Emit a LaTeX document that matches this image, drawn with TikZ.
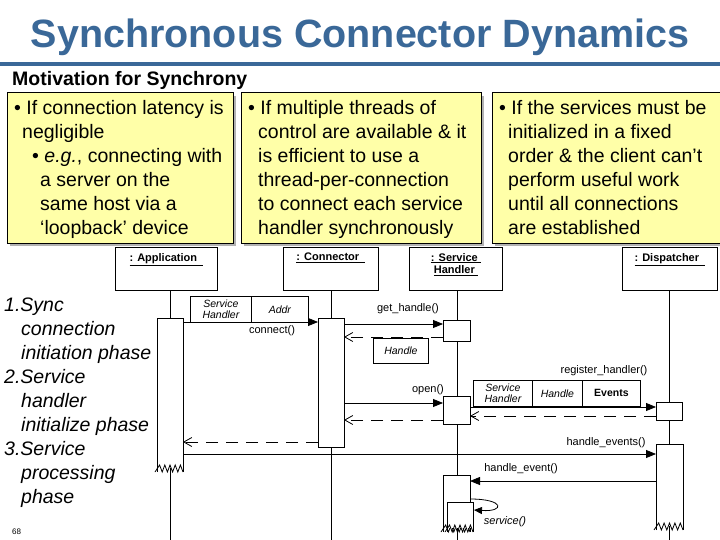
\documentclass[tikz,border=0pt]{standalone}
\usepackage{fontspec}
\setmainfont{Liberation Sans}
\usetikzlibrary{arrows.meta}
\definecolor{titleblue}{HTML}{3A6898}
\definecolor{pyellow}{HTML}{FFFFA8}
\newcommand\zzbox[4]{% x1 x2 ytop ybottom
  \fill[white] (#1,#3) rectangle (#2,#4-4);
  \draw[thick] (#1,#4) -- (#1,#3) -- (#2,#3) -- (#2,#4);
  \draw[thick] (#1-2,#4) \foreach \k in {0,...,4}{ -- ({#1+\k*(#2-#1)/5+((#2-#1)/10)},#4-7) -- ({#1+(\k+1)*(#2-#1)/5},#4)};}
\begin{document}
\begin{tikzpicture}[x=1pt,y=-1pt,
  panel/.style={draw,thick,fill=pyellow,anchor=north west,inner sep=0pt},
  obj/.style={draw,thick,fill=white,minimum height=43pt,anchor=north west},
  olab/.style={anchor=north,font=\fontsize{11}{12.5}\selectfont\bfseries,align=center,inner sep=0pt},
  act/.style={draw,thick,fill=white},
  msg/.style={thick,-{Triangle[length=10pt,width=8pt]}},
  ret/.style={thick,dash pattern=on 12pt off 8pt,-{Straight Barb[length=8pt,width=9pt]}},
  lbl/.style={font=\fontsize{11}{12}\selectfont},
  cell/.style={draw,thick,fill=white,minimum height=26pt,font=\fontsize{10.5}{10.5}\selectfont\itshape,align=center,inner sep=1pt,anchor=north west}]
\useasboundingbox (0,0) rectangle (720,540);
\fill[white] (0,0) rectangle (720,540);
% title
\node[font=\fontsize{39.5}{40}\selectfont\bfseries,text=titleblue,anchor=base] (title) at (360,48) {Synchronous Connector Dynamics};
\fill[titleblue] (0,62) rectangle (720,66);
\node[font=\fontsize{19.5}{20}\selectfont\bfseries,anchor=base west,inner sep=0pt] (mot) at (12,86) {Motivation for Synchrony};
% panels
\fill[gray!60] (10,96) rectangle (236,246);
\fill[gray!60] (244,96) rectangle (484,246);
\fill[gray!60] (495,96) rectangle (722,246);
\node[panel,minimum width=226pt,minimum height=151pt] (p1) at (7,92) {};
\node[panel,minimum width=240pt,minimum height=151pt] (p2) at (241,92) {};
\node[panel,minimum width=230pt,minimum height=151pt] (p3) at (492,92) {};
\begin{scope}[every node/.style={anchor=base west,inner sep=0pt,font=\fontsize{19.5}{20}\selectfont}]
\node at (14,115) {• If connection latency is};
\node at (22,139) {negligible};
\node at (32,163) {• \textit{e.g.}, connecting with};
\node at (40,187) {a server on the};
\node at (40,211) {same host via a};
\node at (40,235) {‘loopback’ device};
\node at (248,115) {• If multiple threads of};
\node at (258,139) {control are available \& it};
\node at (258,163) {is efficient to use a};
\node at (258,187) {thread-per-connection};
\node at (258,211) {to connect each service};
\node at (258,235) {handler synchronously};
\node at (499,115) {• If the services must be};
\node at (508,139) {initialized in a fixed};
\node at (508,163) {order \& the client can’t};
\node at (508,187) {perform useful work};
\node at (508,211) {until all connections};
\node at (508,235) {are established};
\end{scope}
\begin{scope}[every node/.style={anchor=base west,inner sep=0pt,font=\fontsize{19.5}{20}\selectfont\itshape}]
\node at (4,311) {1.Sync};
\node at (21,335) {connection};
\node at (21,359) {initiation phase};
\node at (4,383) {2.Service};
\node at (21,407) {handler};
\node at (21,431) {initialize phase};
\node at (4,455) {3.Service};
\node at (21,479) {processing};
\node at (21,503) {phase};
\end{scope}
\node[anchor=base west,inner sep=0pt,font=\fontsize{8}{9}\selectfont] (pg) at (12,534) {68};
% lifelines
\draw[thick] (170,290) -- (170,540);
\draw[thick] (331,290) -- (331,540);
\draw[thick] (457,290) -- (457,540);
\draw[thick] (669,290) -- (669,540);
% objects
\node[obj,minimum width=102pt] (app) at (115,247) {};
\node[olab] at ([yshift=-6pt]app.north) {\underline{: Application\ \ }};
\node[obj,minimum width=95pt] (con) at (283,247) {};
\node[olab] at ([yshift=-6pt]con.north) {\underline{: Connector\ \ }};
\node[obj,minimum width=93pt] (sh) at (409,247) {};
\node[olab] at ([yshift=-6pt]sh.north) {\underline{: Service\ }\\\underline{Handler\ }};
\node[obj,minimum width=95pt] (dis) at (622,247) {};
\node[olab] at ([yshift=-6pt]dis.north) {\underline{: Dispatcher\ \ }};
% activations
\zzbox{157}{183}{318}{472}
\node[act,minimum width=26pt,minimum height=129pt,anchor=north west] (cact) at (318,318) {};
\node[act,minimum width=27pt,minimum height=21pt,anchor=north west] (sh1) at (443,320) {};
\node[act,minimum width=27pt,minimum height=28pt,anchor=north west] (sh2) at (443,396) {};
\node[act,minimum width=26pt,minimum height=18pt,anchor=north west] (d1) at (656,402) {};
\zzbox{656}{683}{444}{530}
\zzbox{443}{470}{475}{532}
\zzbox{447}{473}{502}{532}
% cells
\node[cell,minimum width=61pt] (c1) at (190,296) {Service\\Handler};
\node[cell,minimum width=57pt,anchor=north west] (c2) at (251,296) {Addr};
\node[cell,minimum width=59pt] (c3) at (473,380) {Service\\Handler};
\node[cell,minimum width=50pt] (c4) at (532,380) {Handle};
\node[cell,minimum width=58pt,font=\fontsize{10.5}{10}\selectfont\bfseries] (c5) at (582,380) {Events};
\node[cell,minimum width=55pt,minimum height=25pt] (hd) at (373,338) {Handle};
% messages
\coordinate (a1) at (183,322); \coordinate (a2) at (318,322);
\draw[msg] (a1) -- (a2);
\node[lbl] (lc) at (272,331) {connect()};
\draw[msg] (344,324) -- (443,324);
\node[lbl] (lg) at (408,309) {get\_handle()};
\draw[ret] (443,337) -- (344,337);
\draw[msg] (344,403) -- (443,403);
\node[lbl] (lo) at (428,390) {open()};
\draw[ret] (443,420) -- (344,420);
\draw[ret] (318,442) -- (183,442);
\draw[msg] (470,407) -- (656,407);
\node[lbl] (lr) at (604,371) {register\_handler()};
\draw[ret] (656,416) -- (470,416);
\draw[msg] (183,454) -- (656,454);
\node[lbl] (le) at (606,443) {handle\_events()};
\draw[msg] (656,481) -- (470,481);
\node[lbl] (lh) at (521,469) {handle\_event()};
\draw[thick,-{Triangle[length=8pt,width=7pt]}] (470,499) .. controls (505,499) and (505,512) .. (474,510);
\node[lbl,font=\fontsize{11}{12}\selectfont\itshape] (ls) at (505,522) {service()};
\end{tikzpicture}
\end{document}
